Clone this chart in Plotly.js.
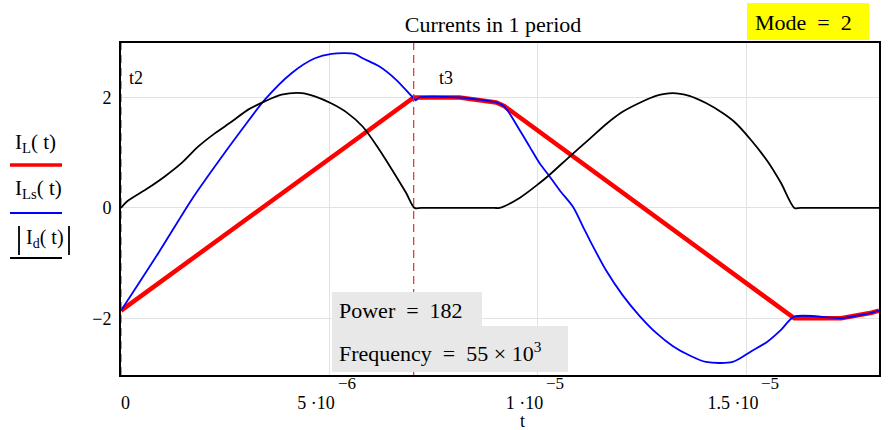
<!DOCTYPE html>
<html>
<head>
<meta charset="utf-8">
<script src="https://cdn.plot.ly/plotly-3.0.1.min.js"></script>
<style>
  html, body { margin: 0; padding: 0; background: #ffffff; }
  #chart { width: 888px; height: 430px; }
</style>
</head>
<body>
<div id="chart"></div>
<script>
// time axis in microseconds (labelled in seconds with scientific tick text)
const tL  = [0, 7.02, 8.12, 8.6, 9.0, 9.2, 16.15, 17.27, 17.6, 18.0, 18.18];
const iL  = [-1.86, 2.0, 2.0, 1.96, 1.91, 1.84, -2.0, -2.0, -1.96, -1.9, -1.86];

const tLs = [0, 0.894, 1.69, 2.25, 2.89, 3.45, 4.09, 4.65, 5.05, 5.6, 5.8, 6.2, 6.6, 7.0, 7.07, 7.15,
             8.12, 8.6, 9.0, 9.2, 9.56, 9.8, 10.04, 10.28, 10.52, 10.84, 11.08, 11.24, 11.64, 12.03,
             12.43, 12.83, 13.23, 13.63, 14.03, 14.67, 15.11, 15.51, 15.83, 16.15, 17.27, 17.6, 18.0, 18.18];
const iLs = [-1.86, -0.82, 0.145, 0.75, 1.41, 1.96, 2.44, 2.71, 2.79, 2.79, 2.71, 2.56, 2.32, 2.0, 1.95, 2.0,
             2.0, 1.96, 1.91, 1.83, 1.41, 1.11, 0.81, 0.57, 0.32, 0.02, -0.34, -0.58, -1.14, -1.58,
             -1.95, -2.26, -2.5, -2.67, -2.79, -2.79, -2.6, -2.42, -2.21, -1.97, -2.0, -1.96, -1.9, -1.86];

const tD  = [0, 0.15, 0.65, 1.05, 1.45, 1.85, 2.25, 2.65, 3.05, 3.45, 3.85, 4.33, 4.65, 5.05, 5.41, 5.8, 6.2,
             6.6, 6.84, 7.04, 7.2, 8.95, 9.08, 9.56, 10.04, 10.28, 10.76, 11.24, 11.64, 12.03, 12.43, 12.83,
             13.23, 13.63, 14.03, 14.43, 14.71, 15.11, 15.51, 15.83, 16.15, 16.3, 18.18];
const iD  = [0, 0.12, 0.36, 0.57, 0.81, 1.11, 1.35, 1.56, 1.78, 1.93, 2.05, 2.08, 2.02, 1.89, 1.73, 1.47, 1.05,
             0.57, 0.27, 0, 0, 0, 0, 0.18, 0.45, 0.6, 0.93, 1.25, 1.52, 1.74, 1.90, 2.03,
             2.08, 2.03, 1.90, 1.72, 1.56, 1.23, 0.84, 0.45, 0, 0, 0];

const markerTimes  = [0, 7.02];           // t2, t3
const markerLabels = ['t2', 't3'];

const xTickVals = [0, 5, 10, 15];
const xTickMant = ['\u00a0\u00a00', '5 ·10', '1 ·10', '1.5 ·10'];
const xTickExp  = ['', '\u22126', '\u22125', '\u22125'];
const yTickVals = [-2, 0, 2];
const yTickText = ['\u22122', '0', '2'];

const FONT = 'Liberation Serif, Times New Roman, serif';
const TICKSIZE = 18;
const L = 121, R = 879, T = 43, B = 375;
const px = x => (x - L) / (R - L);
const py = y => (B - y) / (B - T);

// measure text for placing the exponents right after the mantissa
const ctx = document.createElement('canvas').getContext('2d');
ctx.font = TICKSIZE + 'px "Liberation Serif"';
const PAD = '\u00a0'.repeat(6);
const padW = ctx.measureText(PAD).width;
const xTickText = xTickMant.map((m, i) => xTickExp[i] ? m + PAD : m);

const traces = [
  { x: tL, y: iL, mode: 'lines', line: { color: '#ff0000', width: 4.5 }, name: 'IL' },
  { x: tLs, y: iLs, mode: 'lines', line: { color: '#0000ff', width: 1.8, shape: 'spline', smoothing: 0.8 }, name: 'ILs' },
  { x: tD, y: iD, mode: 'lines', line: { color: '#000000', width: 1.8, shape: 'spline', smoothing: 0.8 }, name: 'Id' }
];

const shapes = [];
markerTimes.forEach(t => shapes.push({
  type: 'line', xref: 'x', yref: 'paper', x0: t, x1: t, y0: 0, y1: 1,
  line: { color: '#e03030', width: 1.2, dash: '8px,5px' }, layer: 'above'
}));
// text boxes
shapes.push({ type: 'rect', xref: 'paper', yref: 'paper', x0: px(332), x1: px(482), y0: py(326), y1: py(292),
  fillcolor: '#e8e8e8', line: { width: 0 }, layer: 'above' });
shapes.push({ type: 'rect', xref: 'paper', yref: 'paper', x0: px(332), x1: px(568), y0: py(372), y1: py(326),
  fillcolor: '#e8e8e8', line: { width: 0 }, layer: 'above' });
shapes.push({ type: 'rect', xref: 'paper', yref: 'paper', x0: px(747), x1: px(869), y0: py(40), y1: py(3),
  fillcolor: '#ffff00', line: { width: 0 }, layer: 'above' });
// legend swatches
shapes.push({ type: 'line', xref: 'paper', yref: 'paper', x0: px(10), x1: px(62), y0: py(165), y1: py(165),
  line: { color: '#ff0000', width: 3.5 } });
shapes.push({ type: 'line', xref: 'paper', yref: 'paper', x0: px(10), x1: px(62), y0: py(213), y1: py(213),
  line: { color: '#0000ff', width: 1.8 } });
shapes.push({ type: 'line', xref: 'paper', yref: 'paper', x0: px(10), x1: px(62), y0: py(258), y1: py(258),
  line: { color: '#000000', width: 1.8 } });
shapes.push({ type: 'line', xref: 'paper', yref: 'paper', x0: px(19), x1: px(19), y0: py(226), y1: py(255),
  line: { color: '#000000', width: 1.8 } });
shapes.push({ type: 'line', xref: 'paper', yref: 'paper', x0: px(69), x1: px(69), y0: py(226), y1: py(255),
  line: { color: '#000000', width: 1.8 } });

const ann = (x, y, text, size, xanchor) => ({
  xref: 'paper', yref: 'paper', x: px(x), y: py(y), text: text, showarrow: false,
  xanchor: xanchor || 'left', yanchor: 'middle', font: { family: FONT, size: size, color: '#000' }
});

const annotations = [
  ann(13, 143, 'I<sub>L</sub>( t)', 21),
  ann(13, 189, 'I<sub>Ls</sub>( t)', 21),
  ann(24, 238, 'I<sub>d</sub>( t)', 20),
  ann(337, 310, 'Power\u00a0\u00a0=\u00a0\u00a0182', 22),
  ann(337, 352, 'Frequency\u00a0\u00a0=\u00a0\u00a055 \u00d7 10<sup>3</sup>', 22),
  ann(753, 22, 'Mode\u00a0\u00a0=\u00a0\u00a02', 22),
  ann(522, 421, 't', 18, 'center'),
  { xref: 'x', yref: 'paper', x: markerTimes[0], y: py(78), text: markerLabels[0], showarrow: false,
    xanchor: 'left', xshift: 6, yanchor: 'middle', font: { family: FONT, size: 18, color: '#000' } },
  { xref: 'x', yref: 'paper', x: markerTimes[1], y: py(78), text: markerLabels[1], showarrow: false,
    xanchor: 'left', xshift: 23, yanchor: 'middle', font: { family: FONT, size: 18, color: '#000' } }
];
// exponents of the x tick labels, placed right after each mantissa
xTickVals.forEach((v, i) => {
  if (!xTickExp[i]) return;
  const mw = ctx.measureText(xTickMant[i]).width;
  annotations.push({
    xref: 'x', yref: 'paper', x: v, y: py(383), text: xTickExp[i], showarrow: false,
    xanchor: 'left', yanchor: 'middle', xshift: (mw - padW) / 2 + 1,
    font: { family: FONT, size: 17, color: '#000' }
  });
});

const layout = {
  width: 888, height: 430,
  margin: { l: L, r: 888 - R, t: T, b: 430 - B },
  paper_bgcolor: '#ffffff', plot_bgcolor: '#ffffff',
  showlegend: false,
  title: { text: 'Currents in 1 period', xref: 'container', yref: 'container',
           x: 493 / 888, y: 1 - 24 / 430, xanchor: 'center', yanchor: 'middle',
           font: { family: FONT, size: 22, color: '#000' } },
  xaxis: {
    range: [0, 18.18], tickvals: xTickVals, ticktext: xTickText, ticks: '',
    showgrid: true, gridcolor: '#e2e2e2', gridwidth: 1, zeroline: false,
    showline: true, mirror: true, linecolor: '#000', linewidth: 2,
    ticklabelstandoff: 10, tickfont: { family: FONT, size: TICKSIZE, color: '#000' }
  },
  yaxis: {
    range: [-3.027, 2.987], tickvals: yTickVals, ticktext: yTickText, ticks: '',
    showgrid: true, gridcolor: '#e2e2e2', gridwidth: 1, zeroline: false,
    showline: true, mirror: true, linecolor: '#000', linewidth: 2,
    ticklabelstandoff: 4, tickfont: { family: FONT, size: TICKSIZE, color: '#000' }
  },
  shapes: shapes,
  annotations: annotations
};

Plotly.newPlot('chart', traces, layout, { staticPlot: true, displayModeBar: false });
</script>
</body>
</html>
